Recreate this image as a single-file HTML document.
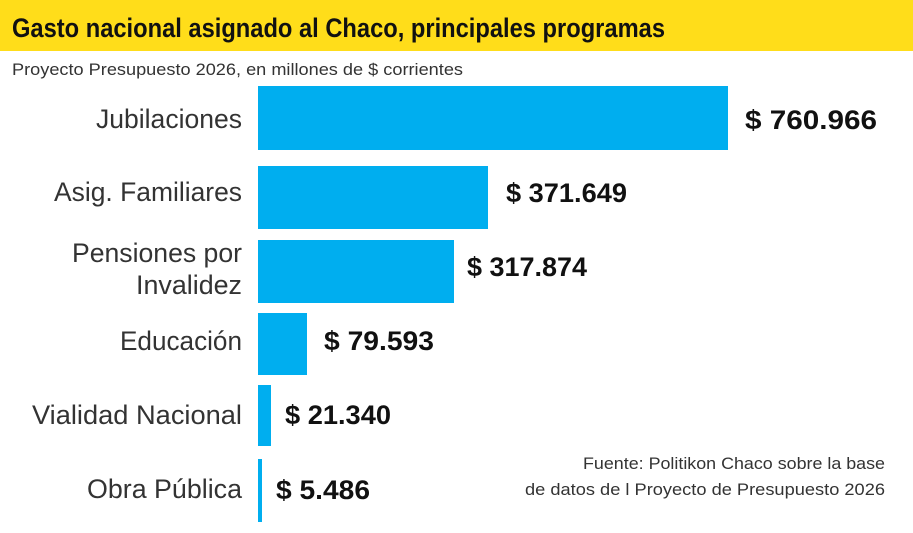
<!DOCTYPE html>
<html><head><meta charset="utf-8"><style>
html,body{margin:0;padding:0;background:#fff;}
svg{display:block}
text{font-family:"Liberation Sans",sans-serif;}
</style></head><body>
<svg width="913" height="533" viewBox="0 0 913 533" xmlns="http://www.w3.org/2000/svg">
<rect x="0" y="0" width="913" height="51" fill="#FFDD1A"/>
<text x="12" y="37" font-size="27" font-weight="bold" fill="#111" textLength="653" lengthAdjust="spacingAndGlyphs">Gasto nacional asignado al Chaco, principales programas</text>
<text x="12" y="75" font-size="17" fill="#333" textLength="451" lengthAdjust="spacingAndGlyphs">Proyecto Presupuesto 2026, en millones de $ corrientes</text>
<g fill="#00AEEF">
<rect x="258" y="86" width="470" height="64"/>
<rect x="258" y="166" width="230" height="63"/>
<rect x="258" y="240" width="196" height="63"/>
<rect x="258" y="313" width="49" height="62"/>
<rect x="258" y="385" width="13" height="61"/>
<rect x="258" y="459" width="4" height="63"/>
</g>
<g font-size="27" fill="#333" text-anchor="end">
<text x="242" y="128" textLength="146" lengthAdjust="spacingAndGlyphs">Jubilaciones</text>
<text x="242" y="201" textLength="188" lengthAdjust="spacingAndGlyphs">Asig. Familiares</text>
<text x="242" y="262" textLength="170" lengthAdjust="spacingAndGlyphs">Pensiones por</text>
<text x="242" y="294" textLength="106" lengthAdjust="spacingAndGlyphs">Invalidez</text>
<text x="242" y="350" textLength="122" lengthAdjust="spacingAndGlyphs">Educación</text>
<text x="242" y="424" textLength="210" lengthAdjust="spacingAndGlyphs">Vialidad Nacional</text>
<text x="242" y="498" textLength="155" lengthAdjust="spacingAndGlyphs">Obra Pública</text>
</g>
<g font-size="27" font-weight="bold" fill="#111">
<text x="745" y="129" textLength="132" lengthAdjust="spacingAndGlyphs">$ 760.966</text>
<text x="506" y="202" textLength="121" lengthAdjust="spacingAndGlyphs">$ 371.649</text>
<text x="467" y="276" textLength="120" lengthAdjust="spacingAndGlyphs">$ 317.874</text>
<text x="324" y="350" textLength="110" lengthAdjust="spacingAndGlyphs">$ 79.593</text>
<text x="285" y="424" textLength="106" lengthAdjust="spacingAndGlyphs">$ 21.340</text>
<text x="276" y="499" textLength="94" lengthAdjust="spacingAndGlyphs">$ 5.486</text>
</g>
<g font-size="17" fill="#333" text-anchor="end">
<text x="885" y="469" textLength="302" lengthAdjust="spacingAndGlyphs">Fuente: Politikon Chaco sobre la base</text>
<text x="885" y="495" textLength="360" lengthAdjust="spacingAndGlyphs">de datos de l Proyecto de Presupuesto 2026</text>
</g>
</svg>
</body></html>
